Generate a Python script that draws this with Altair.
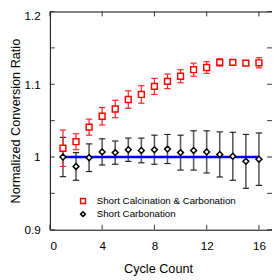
import altair as alt
import pandas as pd

cycles = list(range(1, 17))
calc_mean = [1.012, 1.021, 1.041, 1.056, 1.066, 1.079, 1.086, 1.097,
             1.104, 1.111, 1.120, 1.123, 1.130, 1.130, 1.129, 1.1295]
calc_err = [0.025, 0.011, 0.011, 0.012, 0.012, 0.012, 0.012, 0.011,
            0.010, 0.009, 0.009, 0.008, 0.005, 0.002, 0.003, 0.007]
carb_mean = [1.000, 0.987, 0.999, 1.007, 1.006, 1.010, 1.009, 1.010,
             1.011, 1.006, 1.009, 1.007, 1.0035, 1.001, 0.994, 0.997]
carb_err = [0.027, 0.019, 0.019, 0.018, 0.016, 0.016, 0.017, 0.020,
            0.020, 0.024, 0.027, 0.029, 0.031, 0.033, 0.037, 0.036]
fit_x = [1, 16]
fit_y = [1.0, 1.0]
series_names = ["Short Calcination & Carbonation", "Short Carbonation"]
x_ticks = [0, 4, 8, 12, 16]
y_ticks = [0.9, 0.95, 1.0, 1.05, 1.1, 1.15, 1.2]
y_labels = [0.9, 1.0, 1.1, 1.2]

W, H = 228, 224
FONT = "Liberation Sans"

calc = pd.DataFrame({"cycle": cycles, "mean": calc_mean,
                     "lo": [m - e for m, e in zip(calc_mean, calc_err)],
                     "hi": [m + e for m, e in zip(calc_mean, calc_err)],
                     "series": series_names[0]})
carb = pd.DataFrame({"cycle": cycles, "mean": carb_mean,
                     "lo": [m - e for m, e in zip(carb_mean, carb_err)],
                     "hi": [m + e for m, e in zip(carb_mean, carb_err)],
                     "series": series_names[1]})
pts = pd.concat([calc, carb], ignore_index=True)
fit = pd.DataFrame({"cycle": fit_x, "mean": fit_y})
xt = pd.DataFrame({"t": x_ticks})
yt = pd.DataFrame({"t": y_ticks})

xscale = alt.Scale(domain=[0, 17], nice=False, zero=False)
yscale = alt.Scale(domain=[0.9, 1.2], nice=False, zero=False)

xaxis = alt.Axis(values=x_ticks, ticks=False, tickSize=0, domain=False, grid=False,
                 labelFont=FONT, labelFontSize=12, labelColor="black", labelPadding=11,
                 title="Cycle Count", titleFont=FONT, titleFontSize=13,
                 titleFontWeight="normal", titleColor="black",
                 titleX=111, titleY=43.7, titleBaseline="alphabetic", titleAlign="center")
yaxis = alt.Axis(values=y_labels, format="~g", ticks=False, tickSize=0, domain=False, grid=False,
                 labelFont=FONT, labelFontSize=12, labelColor="black", labelPadding=10,
                 labelOffset={"expr": "datum.value >= 1.19 ? 4.5 : 0"},
                 title="Normalized Conversion Ratio", titleFont=FONT, titleFontSize=13,
                 titleFontWeight="normal", titleColor="black",
                 titleX=-35, titleY=112, titleAngle=270, titleBaseline="middle",
                 titleAlign="center")

X = lambda f: alt.X(f, type="quantitative", scale=xscale, axis=xaxis)
Y = lambda f: alt.Y(f, type="quantitative", scale=yscale, axis=yaxis)


def errbars(df, bar_color, cap_color, width):
    bars = alt.Chart(df).mark_rule(color=bar_color, strokeWidth=width).encode(
        x=X("cycle"), y=Y("lo"), y2="hi")
    top = alt.Chart(df).mark_tick(color=cap_color, orient="horizontal", size=6.5,
                                  thickness=1.2, opacity=1).encode(x=X("cycle"), y=Y("hi"))
    bot = alt.Chart(df).mark_tick(color=cap_color, orient="horizontal", size=6.5,
                                  thickness=1.2, opacity=1).encode(x=X("cycle"), y=Y("lo"))
    return [bars, top, bot]


carb_err_layers = errbars(carb, "#5a5a5a", "#222222", 1.6)
calc_err_layers = errbars(calc, "#ff3030", "#ff2020", 1.3)

line = alt.Chart(fit).mark_line(color="#0000ff", strokeWidth=2.5).encode(
    x=X("cycle"), y=Y("mean"))

legend = alt.Legend(orient="none", legendX=29, legendY=189.5, title=None,
                    labelFont=FONT, labelFontSize=10, labelColor="black",
                    symbolSize=25, symbolStrokeWidth=1.5, labelOffset=9,
                    rowPadding=1.5, padding=0, symbolFillColor="white")

points = alt.Chart(pts).mark_point(filled=False, fill="white", fillOpacity=1,
                                   strokeWidth=1.5, size=36, opacity=1).encode(
    x=X("cycle"), y=Y("mean"),
    color=alt.Color("series:N", scale=alt.Scale(domain=series_names, range=["#ff0000", "#000000"]),
                    legend=legend),
    shape=alt.Shape("series:N", scale=alt.Scale(domain=series_names, range=["square", "diamond"]),
                    legend=legend),
)

TL = 5
tick_color = "#333333"
xt_bot = alt.Chart(xt).mark_rule(color=tick_color, strokeWidth=1).encode(
    x=X("t"), y=alt.value(H), y2=alt.value(H - TL))
xt_top = alt.Chart(xt).mark_rule(color=tick_color, strokeWidth=1).encode(
    x=X("t"), y=alt.value(0), y2=alt.value(TL))
yt_left = alt.Chart(yt).mark_rule(color=tick_color, strokeWidth=1).encode(
    y=Y("t"), x=alt.value(0), x2=alt.value(TL))
yt_right = alt.Chart(yt).mark_rule(color=tick_color, strokeWidth=1).encode(
    y=Y("t"), x=alt.value(W - TL), x2=alt.value(W))

chart = alt.layer(
    xt_bot, xt_top, yt_left, yt_right,
    *carb_err_layers, *calc_err_layers, line, points
).properties(
    width=W, height=H,
    padding={"left": 43, "top": 0, "right": 0, "bottom": 48},
    autosize=alt.AutoSizeParams(type="none"),
    background="white",
).configure_view(stroke="black", strokeWidth=1)

chart.save("out.html", embed_options={"renderer": "svg", "actions": False})
